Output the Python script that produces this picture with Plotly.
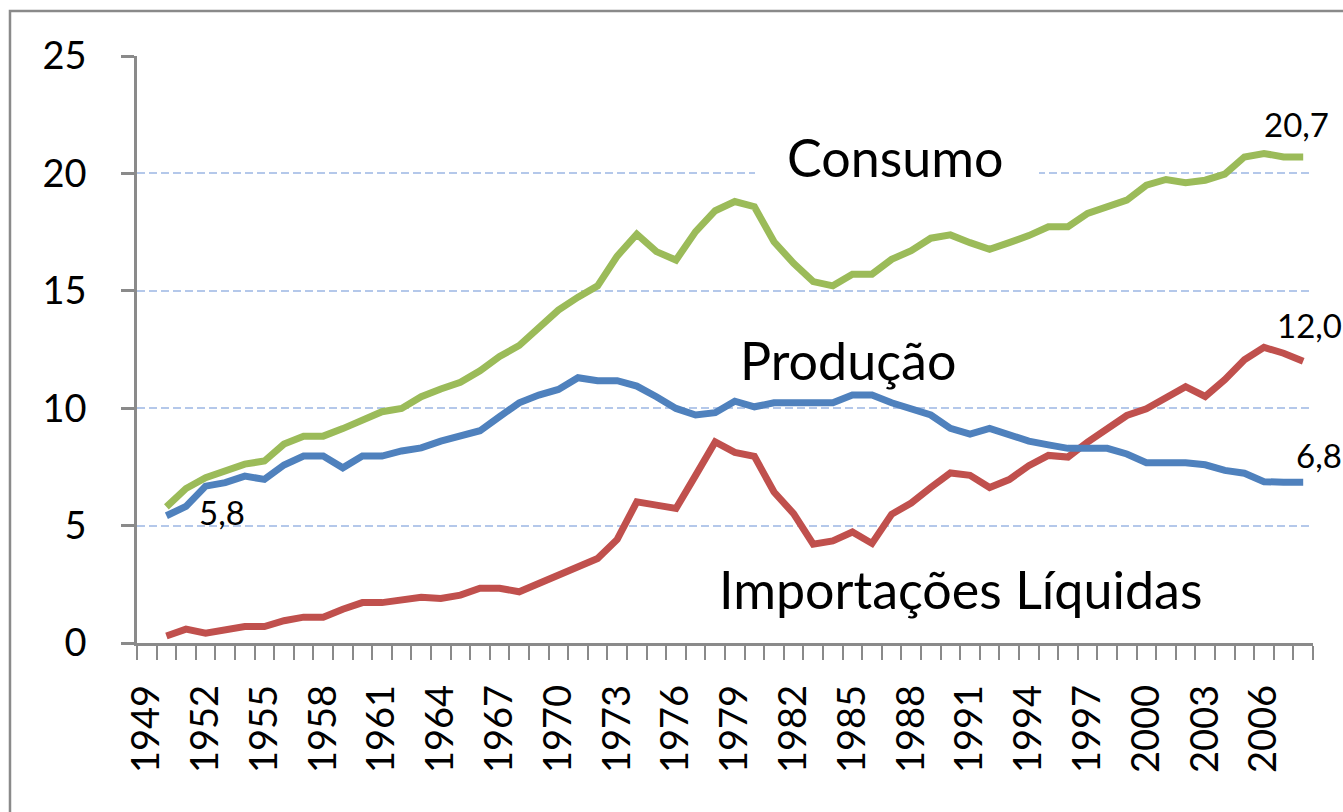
import plotly.graph_objects as go

years = list(range(1950, 2009))

consumo = [5.8, 6.58, 7.04, 7.33, 7.62, 7.75, 8.47, 8.81, 8.81, 9.13,
           9.5, 9.85, 9.99, 10.49, 10.82, 11.1, 11.59, 12.2, 12.67, 13.47,
           14.18, 14.73, 15.21, 16.48, 17.41, 16.67, 16.31, 17.52, 18.41, 18.8,
           18.58, 17.09, 16.17, 15.39, 15.21, 15.71, 15.71, 16.34, 16.71, 17.24,
           17.38, 17.05, 16.77, 17.05, 17.35, 17.73, 17.73, 18.3, 18.61, 18.86,
           19.5, 19.74, 19.6, 19.71, 19.97, 20.7, 20.85, 20.7, 20.7]

producao = [5.42, 5.82, 6.68, 6.83, 7.11, 6.97, 7.58, 7.96, 7.96, 7.46,
            7.96, 7.96, 8.18, 8.31, 8.6, 8.79, 9.04, 9.64, 10.23, 10.56,
            10.8, 11.3, 11.17, 11.17, 10.94, 10.49, 9.99, 9.71, 9.81, 10.3,
            10.06, 10.23, 10.23, 10.23, 10.23, 10.56, 10.56, 10.23, 9.99, 9.71,
            9.14, 8.9, 9.14, 8.9, 8.6, 8.44, 8.29, 8.29, 8.29, 8.05,
            7.68, 7.68, 7.68, 7.59, 7.35, 7.23, 6.87, 6.85, 6.85]

importacoes = [0.3, 0.59, 0.42, 0.56, 0.7, 0.7, 0.95, 1.1, 1.1, 1.44,
               1.72, 1.72, 1.83, 1.95, 1.9, 2.04, 2.33, 2.33, 2.18, 2.54,
               2.89, 3.18, 3.6, 4.41, 6.01, 5.87, 5.73, 7.14, 8.56, 8.12,
               7.95, 6.43, 5.51, 4.21, 4.35, 4.73, 4.24, 5.48, 5.96, 6.62,
               7.24, 7.14, 6.62, 6.96, 7.55, 7.99, 7.92, 8.56, 9.12, 9.69,
               9.97, 10.47, 10.92, 10.5, 11.21, 12.06, 12.59, 12.34, 12.0]

tick_years = list(range(1949, 2007, 3))
tick_labels = [str(y) for y in tick_years]
y_ticks = [0, 5, 10, 15, 20, 25]

FONT = "Lato"
GRAY = "#8a8a8a"

fig = go.Figure()
fig.add_trace(go.Scatter(x=years, y=importacoes, mode="lines",
                         line=dict(color="#C0504D", width=7), name="Importações Líquidas"))
fig.add_trace(go.Scatter(x=years, y=producao, mode="lines",
                         line=dict(color="#4F81BD", width=7), name="Produção"))
fig.add_trace(go.Scatter(x=years, y=consumo, mode="lines",
                         line=dict(color="#9BBB59", width=7), name="Consumo"))

big = dict(family=FONT, size=52, color="black")
small = dict(family=FONT, size=33, color="black")
annotations = [
    dict(x=1987.17, y=20.68, text="Consumo", font=big),
    dict(x=1984.75, y=12.07, text="Produção", font=big),
    dict(x=1990.54, y=2.32, text="Importações Líquidas", font=big),
    dict(x=2007.66, y=22.1, text="20,7", font=small),
    dict(x=2008.3, y=13.54, text="12,0", font=small),
    dict(x=2008.5, y=8.0, text="6,8", font=small, xshift=6),
    dict(x=1952.84, y=5.6, text="5,8", font=small),
]
for a in annotations:
    a.update(xref="x", yref="y", showarrow=False, xanchor="center", yanchor="middle")

fig.update_layout(
    width=1343, height=812,
    margin=dict(l=137, r=30, t=56, b=169),
    paper_bgcolor="white", plot_bgcolor="white",
    showlegend=False,
    font=dict(family=FONT, color="black"),
    annotations=annotations,
    shapes=[
        dict(type="rect", xref="paper", yref="paper",
             x0=-0.108, x1=1.2, y0=-0.5, y1=1.0767,
             line=dict(color=GRAY, width=2.5), fillcolor="rgba(0,0,0,0)", layer="below"),
        # white box of the "Consumo" label, hiding the gridline behind it
        dict(type="rect", xref="x", yref="y", x0=1980.03, x1=1994.52, y0=19.6, y1=20.4,
             line=dict(width=0), fillcolor="white", layer="between"),
    ],
)

fig.update_xaxes(
    range=[1948.5, 2008.5], automargin=False,
    tickmode="array", tickvals=tick_years, ticktext=tick_labels,
    tickangle=-90, tickfont=dict(family=FONT, size=38, color="black"),
    ticks="", showgrid=False, zeroline=False,
    showline=True, linecolor=GRAY, linewidth=2.5,
    ticklabelstandoff=24,
    minor=dict(ticks="outside", tickmode="linear", tick0=1948.5, dtick=1,
               ticklen=14, tickwidth=2, tickcolor=GRAY, showgrid=False),
)
fig.update_yaxes(
    range=[0, 25], automargin=False, tickmode="array", tickvals=y_ticks,
    tickfont=dict(family=FONT, size=38, color="black"),
    ticks="outside", ticklen=13, tickwidth=2.5, tickcolor=GRAY,
    showline=True, linecolor=GRAY, linewidth=2.5,
    showgrid=True, gridcolor="#B4C8EA", gridwidth=2, griddash="8px,4px",
    zeroline=False, ticklabelstandoff=27,
)

fig.write_html(
    "out.html",
    config={"displayModeBar": False},
    post_script="document.body.style.margin='0px';document.body.style.overflow='hidden';",
)
